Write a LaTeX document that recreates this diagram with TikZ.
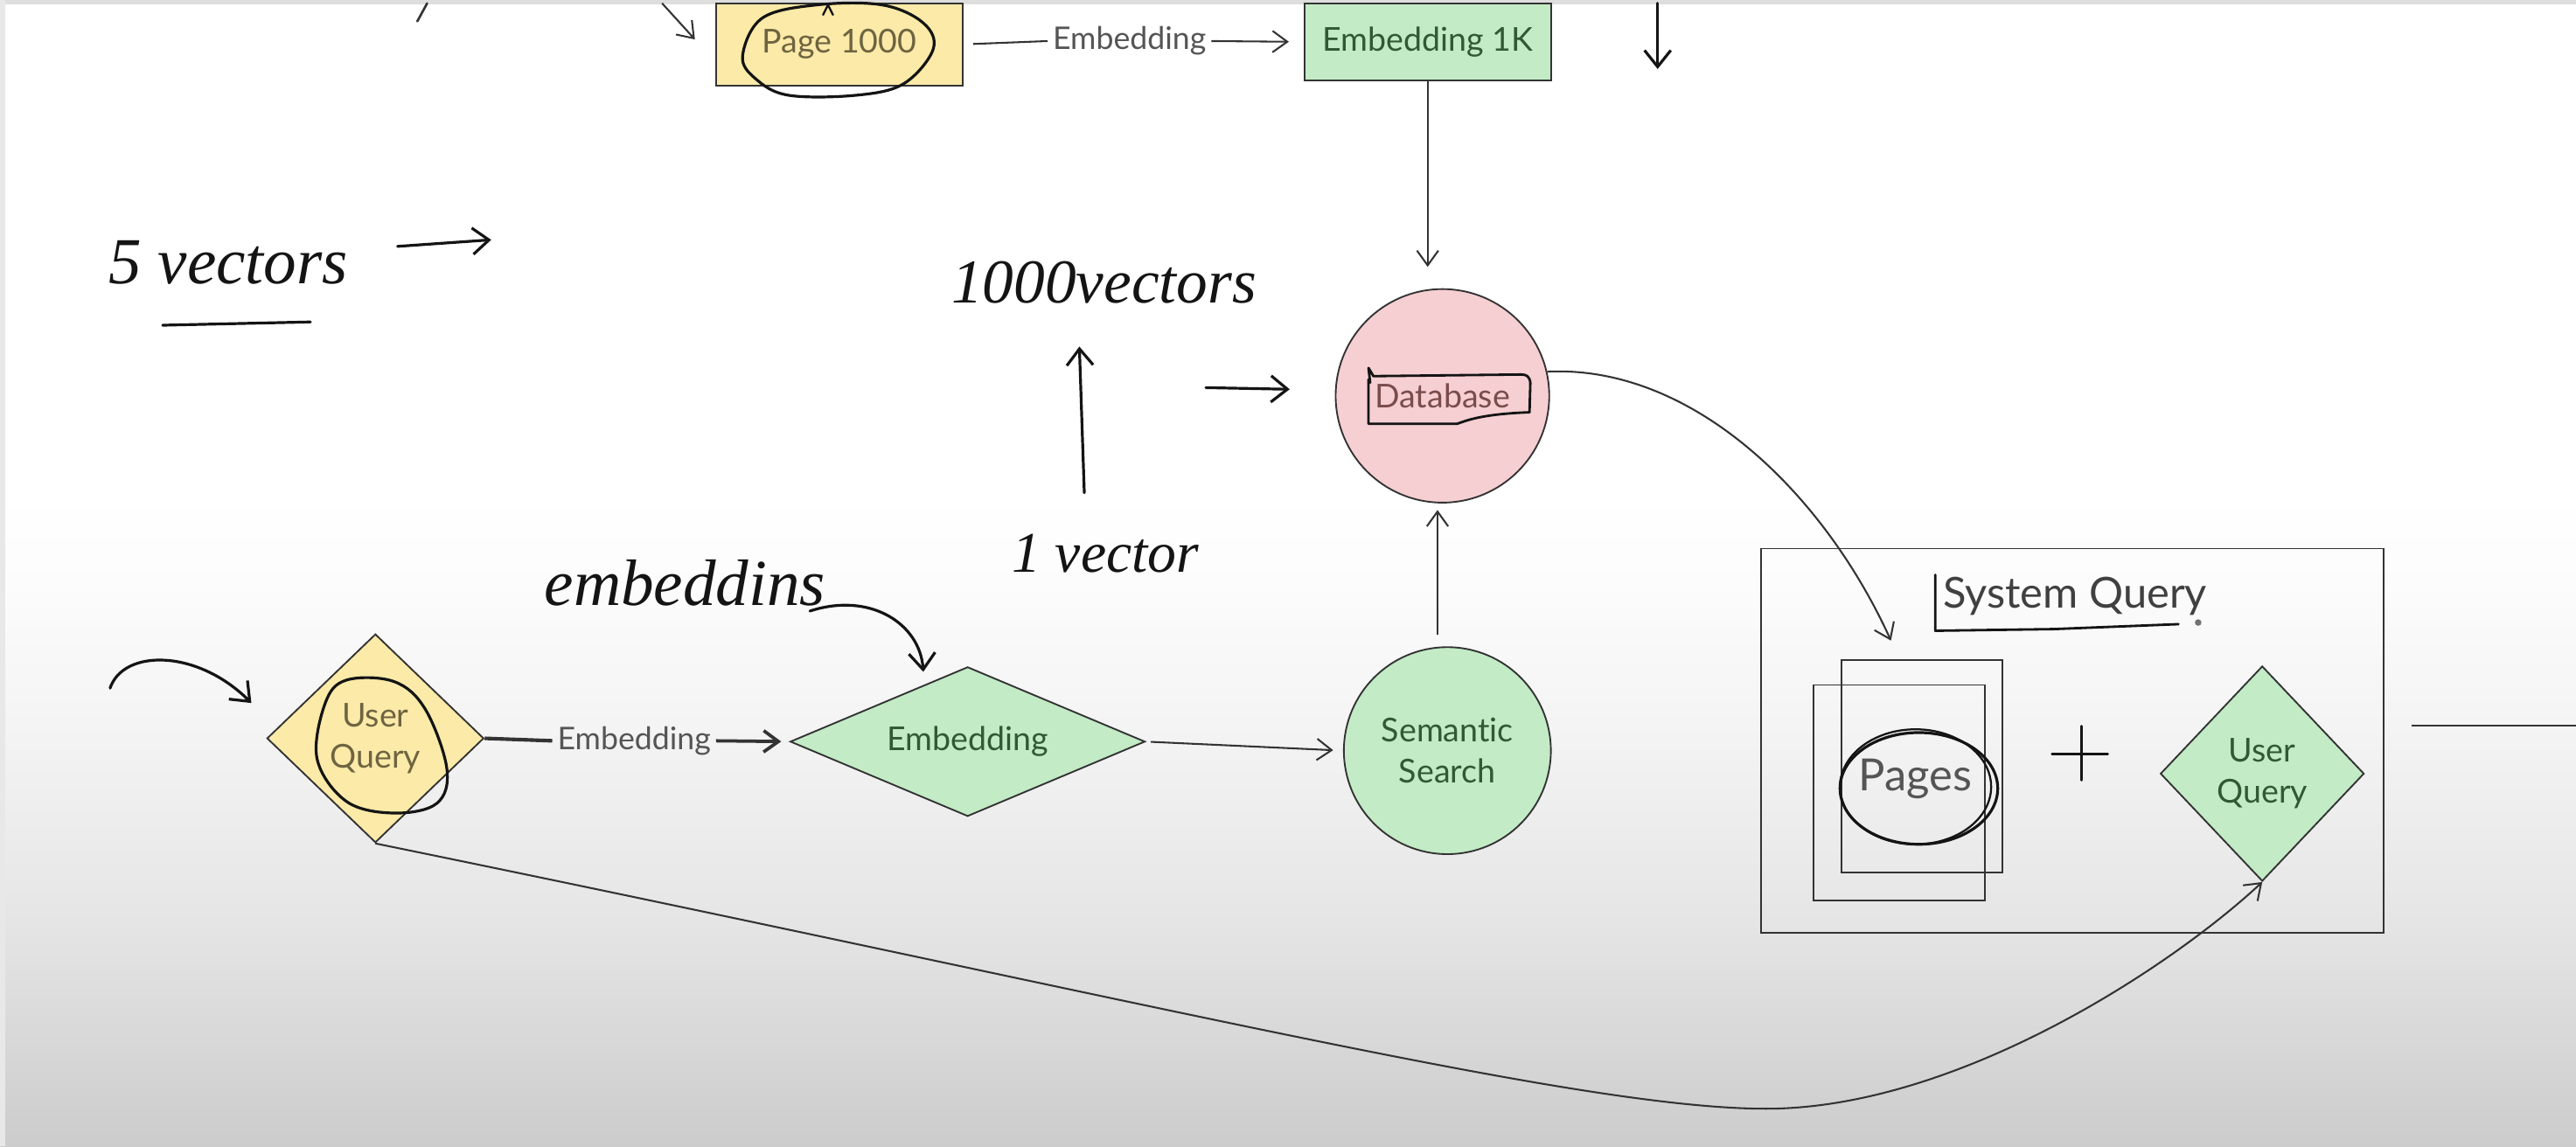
\documentclass[tikz,border=0pt]{standalone}
\usepackage{fontspec}
\setmainfont{Lato}[Ligatures=NoCommon]
\newfontfamily\handfont{Liberation Serif}
\usetikzlibrary{shapes.geometric,arrows.meta}
\definecolor{linec}{HTML}{333333}
\definecolor{yfill}{HTML}{FBEAA8}
\definecolor{ytext}{HTML}{6E6440}
\definecolor{gfill}{HTML}{C2EBC6}
\definecolor{gtext}{HTML}{2F5A33}
\definecolor{pfill}{HTML}{F6CFD3}
\definecolor{ptext}{HTML}{7A4C4C}
\definecolor{labtext}{HTML}{555555}
\definecolor{inkc}{HTML}{141414}
\pgfdeclareverticalshading{bgshade}{100bp}{color(0bp)=(black!20); color(25bp)=(black!20); color(35bp)=(black!10); color(43bp)=(black!4.5); color(50bp)=(black!1); color(53.5bp)=(white); color(100bp)=(white)}
\begin{document}
\begin{tikzpicture}[x=1pt,y=-1pt,
  shapeborder/.style={draw=linec,line width=1pt,inner sep=0pt},
  ybox/.style={shapeborder,fill=yfill,text=ytext,font=\fontsize{20}{25}\selectfont,align=center},
  gbox/.style={shapeborder,fill=gfill,text=gtext,font=\fontsize{20}{25}\selectfont,align=center},
  pbox/.style={shapeborder,fill=pfill,text=ptext,font=\fontsize{20}{25}\selectfont,align=center},
  plainbox/.style={draw=linec,line width=1pt,inner sep=0pt,fill=none},
  labnode/.style={text=labtext,font=\fontsize{19}{23}\selectfont,inner sep=3pt},
  conn/.style={draw=linec,line width=1.1pt,-{Straight Barb[length=9pt,width=13pt]}},
  connline/.style={draw=linec,line width=1.1pt},
  ink/.style={draw=inkc,line width=1.7pt,line cap=round,line join=round},
  inkarrow/.style={ink,-{Straight Barb[length=10pt,width=16pt]}},
  handtext/.style={text=inkc,font=\handfont\itshape\fontsize{38}{40}\selectfont,inner sep=0pt}
]
% background
\shade[shading=bgshade] (0,0) rectangle (1568,698);
\fill[black!13] (0,0) rectangle (1568,2.5);
\fill[black!9] (0,0) rectangle (3,698);
\useasboundingbox (0,0) rectangle (1568,698);

% ---------- top row
\node[ybox,rectangle,minimum width=150pt,minimum height=50pt] (p1000) at (511,27) {Page 1000};
\node[gbox,rectangle,minimum width=150pt,minimum height=47pt] (e1k) at (869,25.5) {Embedding 1K};
\node[labnode] (lab0) at (687.5,25) {Embedding};
\draw[connline,shorten <=6pt] (p1000.east) -- (lab0.west);
\draw[conn,shorten >=9pt] (lab0.east) -- (e1k.west);

% ---------- database
\node[pbox,circle,minimum size=130pt] (db) at (878,241) {Database};
\draw[conn,shorten >=13pt] (e1k.south) -- (e1k.south |- db.north);

% ---------- semantic search
\node[gbox,circle,minimum size=126pt] (ss) at (881,457) {Semantic\\Search};
\draw[conn,shorten <=7pt,shorten >=4pt] ([xshift=-6pt]ss.north) -- ([xshift=-3pt]db.south);

% ---------- user query & embedding
\node[ybox,diamond,aspect=1,minimum width=132pt,minimum height=127pt] (uq) at (228.5,449.5) {User\\Query};
\node[gbox,diamond,aspect=2.4,minimum width=216pt,minimum height=91pt] (emb) at (589,451.5) {Embedding};
\node[labnode] (lab1) at (386,451) {Embedding};
\draw[connline,line width=2.2pt] (uq.east) -- (lab1.west);
\draw[conn,line width=2pt,shorten >=5pt] (lab1.east) -- (emb.west);
\draw[conn,shorten <=3pt,shorten >=6pt] (emb.east) -- (ss.west);

% ---------- system query group
\node[plainbox,rectangle,minimum width=379pt,minimum height=234pt] (sysq) at (1261.5,451) {};
\node[text=black!75,font=\fontsize{26}{30}\selectfont] (systxt) at (1263,363) {System Query};
\node[plainbox,rectangle,minimum width=98pt,minimum height=129pt] (pgA) at (1170,466.5) {};
\node[plainbox,rectangle,minimum width=104pt,minimum height=131pt] (pgB) at (1156,482.5) {};
\node[text=labtext,font=\fontsize{27}{30}\selectfont] (pages) at (1166,474) {Pages};
\node[gbox,diamond,aspect=1,minimum width=124pt,minimum height=131pt] (gq) at (1377,471) {User\\Query};

% connectors
\coordinate (pin) at (1151,390);
\draw[conn] (db.13) .. controls (1030,222) and (1110,300) .. (pin);
\coordinate (low) at (1075,675);
\draw[conn] (uq.south) .. controls (700,610) and (960,675) .. (low) .. controls (1190,675) and (1320,590) .. (gq.south);
\coordinate (rs) at (1468,442);
\coordinate (re) at (1568,442);
\draw[connline] (rs) -- (re);
\coordinate (ta) at (403,2);
\coordinate (tb) at (423,24);
\draw[conn] (ta) -- (tb);
\draw[connline,line width=1.4pt,line cap=round] (260,2) -- (254,13);

% ---------- handwritten ink
% circle around Page 1000
\draw[ink] plot[smooth cycle,tension=0.6] coordinates {(452,34) (464,11) (497,3) (537,3) (562,14) (568,30) (550,51) (521,58) (480,58) (460,48)};
\draw[ink,line width=1.3pt] (501,9) -- (504,3) -- (507,9);
% rectangle round Database
\draw[ink,line width=1.5pt] (833,231) -- (833,258) -- (887,258) .. controls (895,255) and (905,252) .. (931,251) -- (931.5,233) .. controls (931,229) and (929,228) .. (926,228) -- (836,229) -- (833,224) -- (834,233);
% ellipse round yellow User Query
\draw[ink] plot[smooth cycle,tension=0.6] coordinates {(193,462) (198,428) (211,414) (240,415) (259,432) (272,468) (266,489) (240,495) (211,488)};
% Pages double circle
\draw[ink] (1168,480) ellipse [x radius=48, y radius=34];
\draw[ink,line width=1.2pt] (1166,479) ellipse [x radius=46, y radius=35];
% System Query bracket
\draw[ink,line width=1.5pt] (1178,350) -- (1178,384) -- (1250,383) -- (1326,380);
\fill[inkc!60] (1338,379) circle (2pt);
% plus
\draw[ink,line width=1.4pt] (1249,459) -- (1283,459);
\draw[ink,line width=1.4pt] (1267,442) -- (1267,475);

% texts
\node[handtext,font=\handfont\itshape\fontsize{40}{42}\selectfont] (t5) at (139,160) {5 vectors};
\draw[ink] (99,198) -- (189,196);
\draw[inkarrow] (242,150) -- (299,146);
\node[handtext] (t1000) at (672,172) {1000vectors};
\draw[inkarrow] (660,300) -- (657,211);
\node[handtext,font=\handfont\itshape\fontsize{35}{38}\selectfont] (t1) at (673,337) {1 vector};
\draw[inkarrow] (734,236) -- (785,237);
\node[handtext,font=\handfont\itshape\fontsize{40}{42}\selectfont] (temb) at (417,355) {embeddins};
\draw[inkarrow] (493,372) .. controls (530,360) and (560,380) .. (562,409);
\draw[inkarrow] (67,419) .. controls (75,395) and (120,395) .. (153,428);
\draw[inkarrow] (1009,2) -- (1009,42);
\end{tikzpicture}
\end{document}
